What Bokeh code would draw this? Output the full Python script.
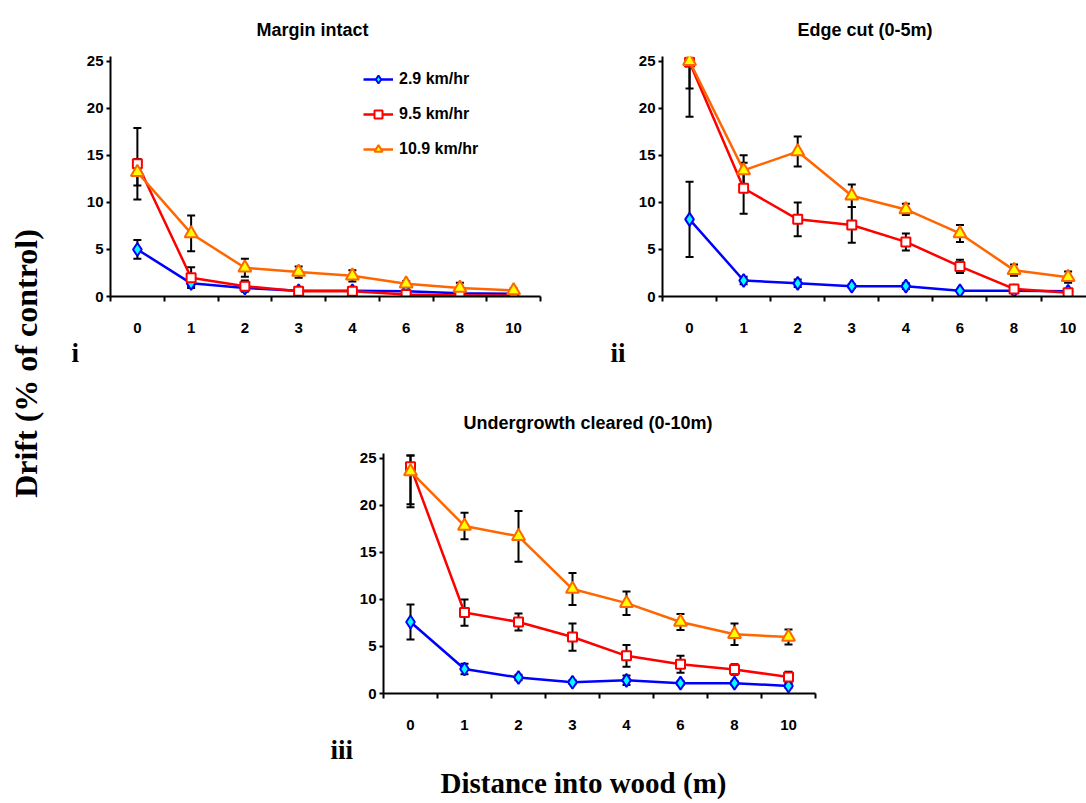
import numpy as np
from bokeh.plotting import figure
from bokeh.models import (ColumnDataSource, Whisker, TeeHead, Label, Legend,
                          LegendItem, FixedTicker, Spacer, Title)
from bokeh.layouts import row, column
from bokeh.embed import file_html
from bokeh.resources import INLINE

# ---------------- data ----------------
distances = ["0", "1", "2", "3", "4", "6", "8", "10"]
series_names = ["2.9 km/hr", "9.5 km/hr", "10.9 km/hr"]
y_ticks = [0, 5, 10, 15, 20, 25]

# Panel i - Margin intact
mi_29 = [5.0, 1.4, 0.9, 0.6, 0.6, 0.55, 0.35, 0.3]
mi_29_err = [1.0, 0.3, 0.3, 0.2, 0.3, 0.2, 0.2, 0.1]
mi_95 = [14.1, 2.0, 1.1, 0.55, 0.55, 0.2, 0.1, 0.1]
mi_95_err = [3.8, 1.1, 0.6, 0.2, 0.2, 0.1, 0.05, 0.05]
mi_109 = [13.2, 6.7, 3.05, 2.6, 2.2, 1.35, 0.9, 0.65]
mi_109_err = [1.4, 1.9, 0.95, 0.6, 0.6, 0.3, 0.55, 0.2]

# Panel ii - Edge cut (0-5m)
ec_29 = [8.2, 1.7, 1.4, 1.1, 1.1, 0.6, 0.6, 0.55]
ec_29_err = [4.0, 0.4, 0.4, 0.2, 0.3, 0.1, 0.1, 0.1]
ec_95 = [24.9, 11.5, 8.2, 7.6, 5.8, 3.2, 0.8, 0.4]
ec_95_err = [5.8, 2.7, 1.8, 1.9, 0.9, 0.7, 0.2, 0.1]
ec_109 = [25.0, 13.4, 15.4, 10.7, 9.25, 6.7, 2.8, 2.05]
ec_109_err = [2.9, 1.6, 1.6, 1.2, 0.6, 0.9, 0.6, 0.6]

# Panel iii - Undergrowth cleared (0-10m)
uc_29 = [7.6, 2.6, 1.7, 1.2, 1.4, 1.1, 1.1, 0.8]
uc_29_err = [1.85, 0.55, 0.3, 0.2, 0.5, 0.2, 0.2, 0.2]
uc_95 = [24.1, 8.6, 7.6, 6.0, 4.0, 3.1, 2.55, 1.75]
uc_95_err = [4.0, 1.4, 0.9, 1.45, 1.15, 0.9, 0.55, 0.55]
uc_109 = [23.6, 17.8, 16.7, 11.1, 9.6, 7.6, 6.3, 6.0]
uc_109_err = [3.8, 1.4, 2.7, 1.7, 1.25, 0.85, 1.15, 0.8]

# ---------------- styles ----------------
SANS = "Liberation Sans"
SERIF = "Liberation Serif"
styles = [
    dict(color="#0000FF", marker="diamond", size=13, fill="#00FFFF"),
    dict(color="#FF0000", marker="square", size=9, fill="#FFFFFF"),
    dict(color="#FF6600", marker="triangle", size=13, fill="#FFFF00"),
]
Y_END = 25.5
xpos = np.arange(len(distances)) + 0.5


def make_panel(width, height, bl, br, bt, bb, x_end, series, title, title_off,
               title_standoff, roman, roman_off):
    p = figure(width=width, height=height, x_range=(0, x_end), y_range=(0, Y_END),
               output_backend="svg", toolbar_location=None,
               min_border_left=bl, min_border_right=br, min_border_top=bt,
               min_border_bottom=bb)
    p.outline_line_color = None
    p.grid.visible = False

    p.title.text = title
    p.title.align = "left"
    p.title.offset = title_off
    p.title.standoff = title_standoff
    p.title.text_font = SANS
    p.title.text_font_style = "bold"
    p.title.text_font_size = "18px"
    p.title.text_color = "black"

    xa = p.xaxis[0]
    xa.ticker = FixedTicker(ticks=list(xpos),
                            minor_ticks=list(np.arange(len(distances) + 1)))
    xa.major_label_overrides = {float(x): d for x, d in zip(xpos, distances)}
    xa.major_tick_out = 0
    xa.major_tick_in = 0
    xa.minor_tick_out = 5
    xa.minor_tick_in = 0
    xa.minor_tick_line_width = 2
    xa.minor_tick_line_color = "black"
    xa.axis_line_width = 2
    xa.axis_line_color = "black"
    xa.major_label_standoff = 21
    xa.major_label_text_font = SANS
    xa.major_label_text_font_style = "bold"
    xa.major_label_text_font_size = "15px"
    xa.major_label_text_color = "black"

    ya = p.yaxis[0]
    ya.ticker = FixedTicker(ticks=y_ticks, minor_ticks=[])
    ya.major_tick_out = 4
    ya.major_tick_in = 0
    ya.major_tick_line_width = 2
    ya.major_tick_line_color = "black"
    ya.axis_line_width = 2
    ya.axis_line_color = "black"
    ya.major_label_standoff = 3
    ya.major_label_text_font = SANS
    ya.major_label_text_font_style = "bold"
    ya.major_label_text_font_size = "15px"
    ya.major_label_text_color = "black"

    items = []
    for (vals, errs), st, name in zip(series, styles, series_names):
        v = np.array(vals)
        e = np.array(errs)
        src = ColumnDataSource(dict(x=xpos, y=v,
                                    upper=np.minimum(v + e, 25.3),
                                    lower=np.maximum(v - e, 0)))
        w = Whisker(base="x", upper="upper", lower="lower", source=src,
                    line_color="black", line_width=2, level="underlay",
                    upper_head=TeeHead(size=8, line_width=2, line_color="black"),
                    lower_head=TeeHead(size=8, line_width=2, line_color="black"))
        p.add_layout(w)
        lr = p.line("x", "y", source=src, line_color=st["color"], line_width=2.5)
        sr = p.scatter("x", "y", source=src, marker=st["marker"], size=st["size"],
                       fill_color=st["fill"], line_color=st["color"], line_width=2)
        items.append(LegendItem(label=name, renderers=[lr, sr]))

    p.add_layout(Title(text=roman, align="left", offset=roman_off, standoff=0,
                       text_font=SERIF, text_font_style="bold",
                       text_font_size="27px", text_color="black"), "below")
    return p, items


p1, items1 = make_panel(510, 375, 60, 20, 56, 79, 8,
                        [(mi_29, mi_29_err), (mi_95, mi_95_err), (mi_109, mi_109_err)],
                        "Margin intact", 146, 34, "i", -39)

p2, _ = make_panel(526, 375, 102, 0, 56, 79, 7.84,
                   [(ec_29, ec_29_err), (ec_95, ec_95_err), (ec_109, ec_109_err)],
                   "Edge cut (0-5m)", 135, 34, "ii", -52)

p3, _ = make_panel(510, 428, 63, 15, 78, 110, 8,
                   [(uc_29, uc_29_err), (uc_95, uc_95_err), (uc_109, uc_109_err)],
                   "Undergrowth cleared (0-10m)", 80, 41, "iii", -53)
p3.add_layout(Title(text="Distance into wood (m)", align="left", offset=57,
                    standoff=0, text_font=SERIF, text_font_style="bold",
                    text_font_size="29px", text_color="black"), "below")

# legend only on panel i
p1.add_layout(Legend(items=items1, location=(253, 137), padding=0, margin=0,
                     spacing=15, glyph_width=30, glyph_height=20, label_height=20,
                     label_standoff=6, border_line_color=None,
                     background_fill_alpha=0,
                     label_text_font=SANS, label_text_font_style="bold",
                     label_text_font_size="16px", label_text_color="black"))

# left strip holding the shared y-axis label
pl = figure(width=50, height=803, x_range=(0, 1), y_range=(0, 1),
            output_backend="svg", toolbar_location=None,
            min_border_left=0, min_border_right=0, min_border_top=0,
            min_border_bottom=0)
pl.axis.visible = False
pl.grid.visible = False
pl.outline_line_color = None
pl.add_layout(Label(x=25, y=440, x_units="screen", y_units="screen",
                    text="Drift (% of control)", angle=np.pi / 2,
                    text_font=SERIF, text_font_style="bold", text_font_size="32px",
                    text_align="center", text_baseline="middle", text_color="black"))

layout = row(pl, column(row(p1, p2), row(Spacer(width=270, height=428), p3)))

open("out.html", "w").write(file_html(layout, INLINE))
